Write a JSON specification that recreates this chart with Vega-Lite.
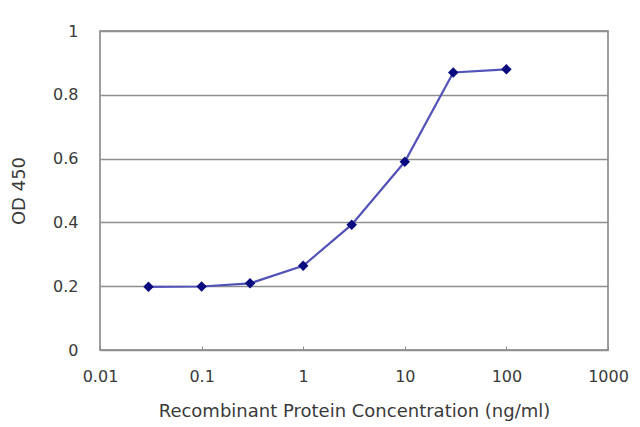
{
  "$schema": "https://vega.github.io/schema/vega-lite/v6.json",
  "width": 508,
  "height": 319,
  "autosize": {"type": "none"},
  "padding": {"left": 100, "top": 31, "right": 32, "bottom": 77},
  "background": "white",
  "data": {
    "values": [
      {"conc": 0.03, "od": 0.198},
      {"conc": 0.1, "od": 0.199},
      {"conc": 0.3, "od": 0.209},
      {"conc": 1, "od": 0.264},
      {"conc": 3, "od": 0.393},
      {"conc": 10, "od": 0.59},
      {"conc": 30, "od": 0.87},
      {"conc": 100, "od": 0.88}
    ]
  },
  "config": {
    "view": {"stroke": "#7f7f7f", "strokeWidth": 1.5},
    "axis": {
      "labelFont": "DejaVu Sans",
      "titleFont": "DejaVu Sans",
      "labelColor": "#3a3a3a",
      "titleColor": "#3a3a3a",
      "labelFontSize": 16,
      "titleFontSize": 18,
      "titleFontWeight": "normal",
      "domain": false
    }
  },
  "encoding": {
    "x": {
      "field": "conc",
      "type": "quantitative",
      "scale": {"type": "log", "domain": [0.01, 1000], "nice": false},
      "axis": {
        "values": [0.01, 0.1, 1, 10, 100, 1000],
        "format": "~g",
        "grid": false,
        "ticks": true,
        "tickSize": -4,
        "tickColor": "#8c8c8c",
        "labelPadding": 22,
        "labelFlush": false,
        "title": "Recombinant Protein Concentration (ng/ml)",
        "titlePadding": 18
      }
    },
    "y": {
      "field": "od",
      "type": "quantitative",
      "scale": {"domain": [0, 1], "nice": false},
      "axis": {
        "values": [0, 0.2, 0.4, 0.6, 0.8, 1],
        "format": "~g",
        "grid": true,
        "gridColor": "#8f8f8f",
        "gridWidth": 1.6,
        "ticks": false,
        "labelPadding": 22,
        "title": "OD 450",
        "titlePadding": 24
      }
    }
  },
  "layer": [
    {
      "mark": {"type": "line", "color": "#5252b8", "strokeWidth": 2.2}
    },
    {
      "mark": {"type": "point", "shape": "diamond", "filled": true, "color": "#0a0a80", "size": 110, "opacity": 1}
    }
  ]
}
